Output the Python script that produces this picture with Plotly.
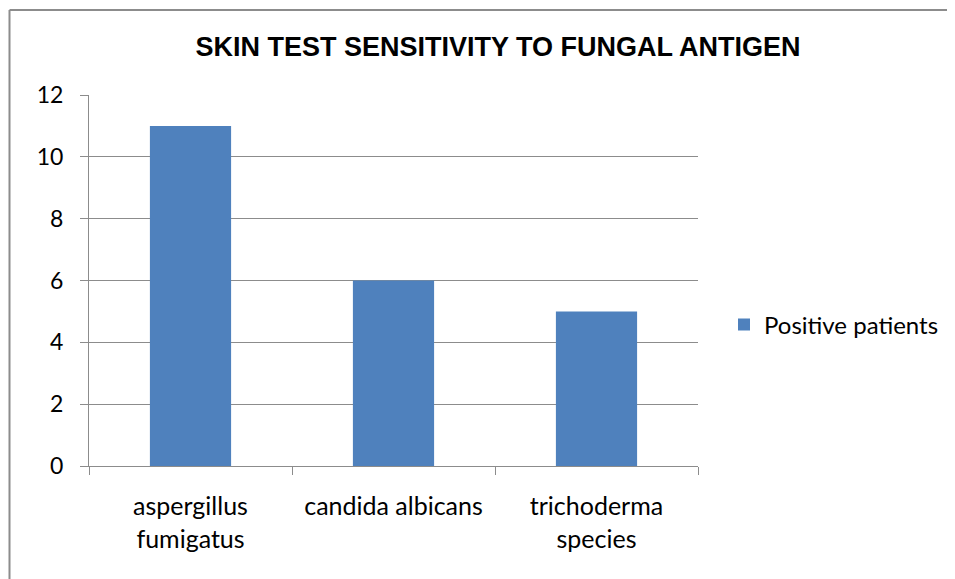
import plotly.graph_objects as go

categories = ["aspergillus<br>fumigatus", "candida albicans", "trichoderma<br>species"]
values = [11, 6, 5]
series_name = "Positive patients"
title = "SKIN TEST SENSITIVITY TO FUNGAL ANTIGEN"

OFF = 8  # page body margin
W, H = 955 - OFF, 579 - OFF
# target page pixel positions of the plot area
PL, PR, PT, PB = 89, 698, 95, 466
L, T = PL - OFF, PT - OFF
R, B = W - (PR - OFF), H - (PB - OFF)
pw, ph = W - L - R, H - T - B

def px_x(p):
    return (p - OFF - L) / pw

def px_y(p):
    return (H - B - (p - OFF)) / ph

fig = go.Figure(go.Bar(x=categories, y=values, name=series_name,
                       marker=dict(color="#4f81bd", line=dict(width=0)),
                       width=0.4, showlegend=True))

fig.update_layout(
    width=W, height=H,
    margin=dict(l=L, r=R, t=T, b=B, autoexpand=False),
    paper_bgcolor="white", plot_bgcolor="white",
    font=dict(family="Lato, Open Sans, sans-serif", size=23, color="black"),
    title=dict(text="<b>" + title + "</b>", xref="container", x=(498 - OFF) / W,
               xanchor="center", yref="container", y=1 - (47 - OFF) / H, yanchor="middle",
               font=dict(family="Liberation Sans, Arial", size=27, color="black")),
    showlegend=True,
    legend=dict(x=px_x(724), xanchor="left", y=px_y(325), yanchor="middle",
                font=dict(size=24), itemwidth=30, bgcolor="rgba(0,0,0,0)"),
)
fig.update_xaxes(type="category", showline=True, linecolor="#8c8c8c", linewidth=1,
                 ticks="outside", tickson="boundaries", ticklen=8, tickcolor="#8c8c8c",
                 showgrid=False, tickfont=dict(size=25), ticklabelstandoff=18)
fig.update_yaxes(range=[0, 12], dtick=2, showline=True, linecolor="#8c8c8c", linewidth=1,
                 ticks="outside", ticklen=8, tickcolor="#8c8c8c",
                 showgrid=True, gridcolor="#8c8c8c", gridwidth=1, zeroline=False,
                 tickfont=dict(size=23), ticklabelstandoff=12)

# outer chart border (left and top edges visible in the crop)
fig.add_shape(type="line", xref="paper", yref="paper",
              x0=px_x(9.5), x1=px_x(9.5), y0=px_y(10), y1=px_y(600),
              line=dict(color="#8c8c8c", width=2))
fig.add_shape(type="line", xref="paper", yref="paper",
              x0=px_x(9.5), x1=px_x(970), y0=px_y(10), y1=px_y(10),
              line=dict(color="#8c8c8c", width=2))

fig.write_html("out.html")
